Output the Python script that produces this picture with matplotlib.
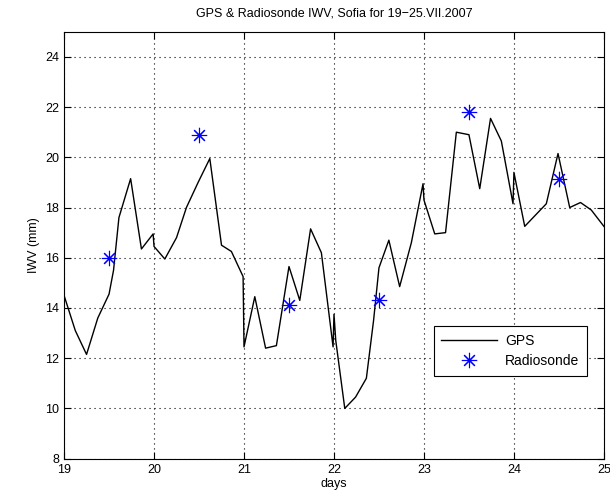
import matplotlib.pyplot as plt

# GPS IWV (day of July, mm)
gps_days = [19.0, 19.125, 19.25, 19.375, 19.5, 19.55, 19.61, 19.74, 19.86, 19.99,
            20.0, 20.12, 20.25, 20.36, 20.49, 20.62, 20.75, 20.86, 20.99,
            21.0, 21.12, 21.24, 21.36, 21.5, 21.62, 21.74, 21.86, 21.99,
            22.0, 22.02, 22.12, 22.24, 22.36, 22.44, 22.5, 22.61, 22.73, 22.86, 22.99,
            23.0, 23.12, 23.24, 23.36, 23.5, 23.62, 23.74, 23.86, 23.99,
            24.0, 24.12, 24.36, 24.49, 24.62, 24.74, 24.86, 25.0]
gps_iwv = [14.5, 13.1, 12.15, 13.6, 14.55, 15.5, 17.6, 19.15, 16.35, 16.95,
           16.45, 15.95, 16.8, 18.0, 19.0, 19.95, 16.5, 16.25, 15.25,
           12.45, 14.45, 12.4, 12.5, 15.65, 14.3, 17.15, 16.2, 12.45,
           13.75, 12.7, 10.0, 10.45, 11.2, 13.5, 15.6, 16.7, 14.85, 16.6, 18.95,
           18.3, 16.95, 17.0, 21.0, 20.9, 18.75, 21.55, 20.65, 18.15,
           19.4, 17.25, 18.15, 20.15, 18.0, 18.2, 17.9, 17.25]

# radiosonde soundings
rs_days = [19.5, 20.5, 21.5, 22.5, 23.5, 24.5]
rs_iwv = [16.0, 20.9, 14.1, 14.3, 21.8, 19.15]

plt.rcParams['font.family'] = ['Liberation Sans', 'DejaVu Sans']
plt.rcParams['font.size'] = 9

fig = plt.figure(figsize=(6.1, 5.04), dpi=100)
ax = fig.add_axes([0.105, 0.09, 0.885, 0.847])

ax.plot(gps_days, gps_iwv, color='black', lw=1, label='GPS')
ax.plot(rs_days, rs_iwv, ls='none', marker=(8, 2, 0), ms=11, mew=0.8,
        color='blue', label='Radiosonde')

ax.set_xlim(19, 25)
ax.set_ylim(8, 25)
ax.set_xticks(range(19, 26))
ax.set_yticks(range(8, 25, 2))
ax.grid(True, ls=(0, (1, 3.5)), color='black', lw=0.8)
ax.tick_params(direction='in', top=True, right=True, length=5)

ax.set_title('GPS & Radiosonde IWV, Sofia for 19\u221225.VII.2007', fontsize=9, pad=11)
ax.set_xlabel('days', labelpad=2)
ax.set_ylabel('IWV (mm)')

leg = ax.legend(loc='lower right', bbox_to_anchor=(0.982, 0.178), fancybox=False,
                edgecolor='black', framealpha=1, handlelength=4, fontsize=10,
                borderpad=0.55, labelspacing=0.45, handletextpad=0.6)
leg.get_frame().set_linewidth(0.8)

fig.savefig('out.png', dpi=100)
